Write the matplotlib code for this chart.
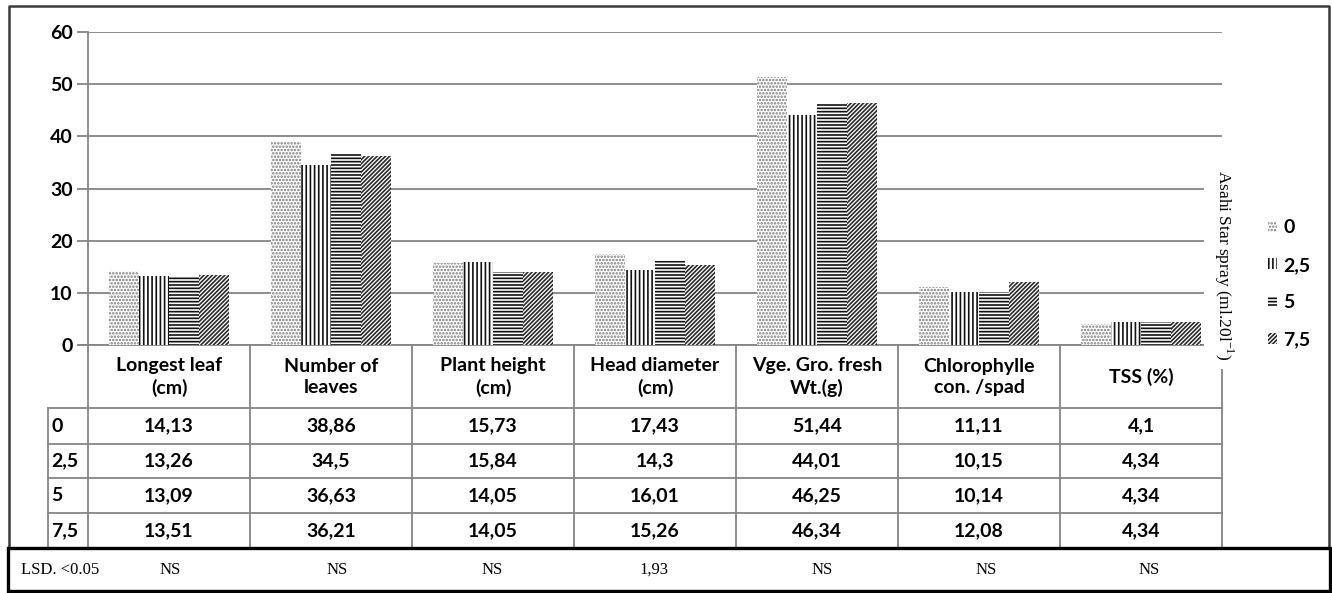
import matplotlib.pyplot as plt
from matplotlib.patches import Patch, Rectangle

# =========================
# DATA
# =========================

categories = [
    'Longest leaf\n(cm)',
    'Number of\nleaves',
    'Plant height\n(cm)',
    'Head diameter\n(cm)',
    'Vge. Gro. fresh\nWt.(g)',
    'Chlorophylle\ncon. /spad',
    'TSS (%)',
]

doses = ['0', '2,5', '5', '7,5']

dose_0 = [14.13, 38.86, 15.73, 17.43, 51.44, 11.11, 4.1]
dose_25 = [13.26, 34.5, 15.84, 14.3, 44.01, 10.15, 4.34]
dose_5 = [13.09, 36.63, 14.05, 16.01, 46.25, 10.14, 4.34]
dose_75 = [13.51, 36.21, 14.05, 15.26, 46.34, 12.08, 4.34]

lsd = ['NS', 'NS', 'NS', '1,93', 'NS', 'NS', 'NS']

y_ticks = [0, 10, 20, 30, 40, 50, 60]

series = [dose_0, dose_25, dose_5, dose_75]

# =========================
# STYLE
# =========================

W, H = 1332, 593

plt.rcParams['hatch.linewidth'] = 1.2

sans = ['Lato', 'DejaVu Sans']
serif = ['Liberation Serif', 'DejaVu Serif']

fs = 14

hatches = ['.....', '||||', '-----', '////////']
hatch_colors = ['#7a7a7a', '#111111', '#111111', '#2a2a2a']

grid_gray = '#858585'

fig = plt.figure(figsize=(W / 100, H / 100), dpi=100)

# plot area in pixels: x 88..1222, y 32..345
ax = fig.add_axes([
    88 / W,
    1 - 345 / H,
    (1222 - 88) / W,
    (345 - 32) / H
])

n = len(categories)
bar_w = 30 / 162

for k, (vals, hatch, hc) in enumerate(zip(series, hatches, hatch_colors)):
    xs = [i + 0.5 + (k - 1.5) * bar_w for i in range(n)]
    ax.bar(
        xs,
        vals,
        width=bar_w,
        facecolor='white',
        edgecolor=hc,
        hatch=hatch,
        linewidth=0,
        zorder=3,
        label=doses[k]
    )

ax.set_xlim(0, n)
ax.set_ylim(0, 60)
ax.set_yticks(y_ticks)
ax.set_yticklabels(
    [str(t) for t in y_ticks],
    fontfamily=sans,
    fontweight='bold',
    fontsize=fs
)
ax.set_xticks([])

ax.yaxis.grid(True, color=grid_gray, linewidth=1.3, zorder=0)
ax.tick_params(axis='y', length=8, color=grid_gray, width=1.3, pad=3)

for side in ['top', 'right']:
    ax.spines[side].set_visible(False)

ax.spines['left'].set_color(grid_gray)
ax.spines['left'].set_linewidth(1.3)
ax.spines['bottom'].set_color(grid_gray)
ax.spines['bottom'].set_linewidth(1.3)

# =========================
# OVERLAY (pixel coords)
# =========================

ov = fig.add_axes([0, 0, 1, 1])
ov.set_xlim(0, W)
ov.set_ylim(H, 0)
ov.axis('off')
ov.patch.set_alpha(0)

line_kw = dict(color=grid_gray, linewidth=1.3)

col_edges = [88 + 162 * i for i in range(n + 1)]
row_edges = [408, 444, 478, 513, 548]

# x-axis tick stub
ov.plot([80, 88], [345, 345], **line_kw)

for x in col_edges:
    ov.plot([x, x], [345, 548], **line_kw)

ov.plot([48, 48], [408, 548], **line_kw)

for y in row_edges[:-1]:
    ov.plot([48, 1222], [y, y], **line_kw)

# header
for i, cat in enumerate(categories):
    ov.text(
        col_edges[i] + 81,
        377,
        cat,
        ha='center',
        va='center',
        fontfamily=sans,
        fontweight='bold',
        fontsize=fs,
        linespacing=1.35
    )

# data rows
for r, (dose, vals) in enumerate(zip(doses, series)):
    yc = (row_edges[r] + row_edges[r + 1]) / 2
    ov.text(
        51, yc, dose,
        ha='left', va='center',
        fontfamily=sans, fontweight='bold', fontsize=fs
    )
    for i, v in enumerate(vals):
        ov.text(
            col_edges[i] + 81, yc,
            f'{v:g}'.replace('.', ','),
            ha='center', va='center',
            fontfamily=sans, fontweight='bold', fontsize=fs
        )

# outer frame
ov.plot(
    [9, 9, 1329, 1329],
    [548, 6, 6, 548],
    color='#3a3a3a',
    linewidth=1.8
)

# LSD box
ov.add_patch(Rectangle(
    (8, 548), 1322, 43,
    facecolor='none', edgecolor='black', linewidth=2.4, zorder=5
))

ov.text(
    60, 570, 'LSD. <0.05',
    ha='center', va='center',
    fontfamily=serif, fontsize=12
)

lsd_x = [170, 337, 492, 654, 822, 986, 1149]

for x, s in zip(lsd_x, lsd):
    ov.text(
        x, 570, s,
        ha='center', va='center',
        fontfamily=serif, fontsize=12
    )

# legend title (rotated)
ov.text(
    1224, 265,
    'Asahi Star spray (ml.20l$^{\\mathregular{-1}}$)',
    rotation=-90,
    ha='center', va='center',
    fontfamily=serif, fontsize=12.5,
    bbox=dict(facecolor='white', edgecolor='none', pad=6),
    zorder=6
)

# legend
handles = [
    Patch(facecolor='white', edgecolor=hc, hatch=h, linewidth=0)
    for h, hc in zip(hatches, hatch_colors)
]

fig.legend(
    handles,
    doses,
    loc='center left',
    bbox_to_anchor=(1250 / W, 1 - 284 / H),
    frameon=False,
    handlelength=0.5,
    handleheight=0.5,
    handletextpad=0.3,
    labelspacing=1.05,
    prop=dict(family=sans, weight='bold', size=fs)
)

plt.savefig('out.png', dpi=100, facecolor='white')

plt.close()
